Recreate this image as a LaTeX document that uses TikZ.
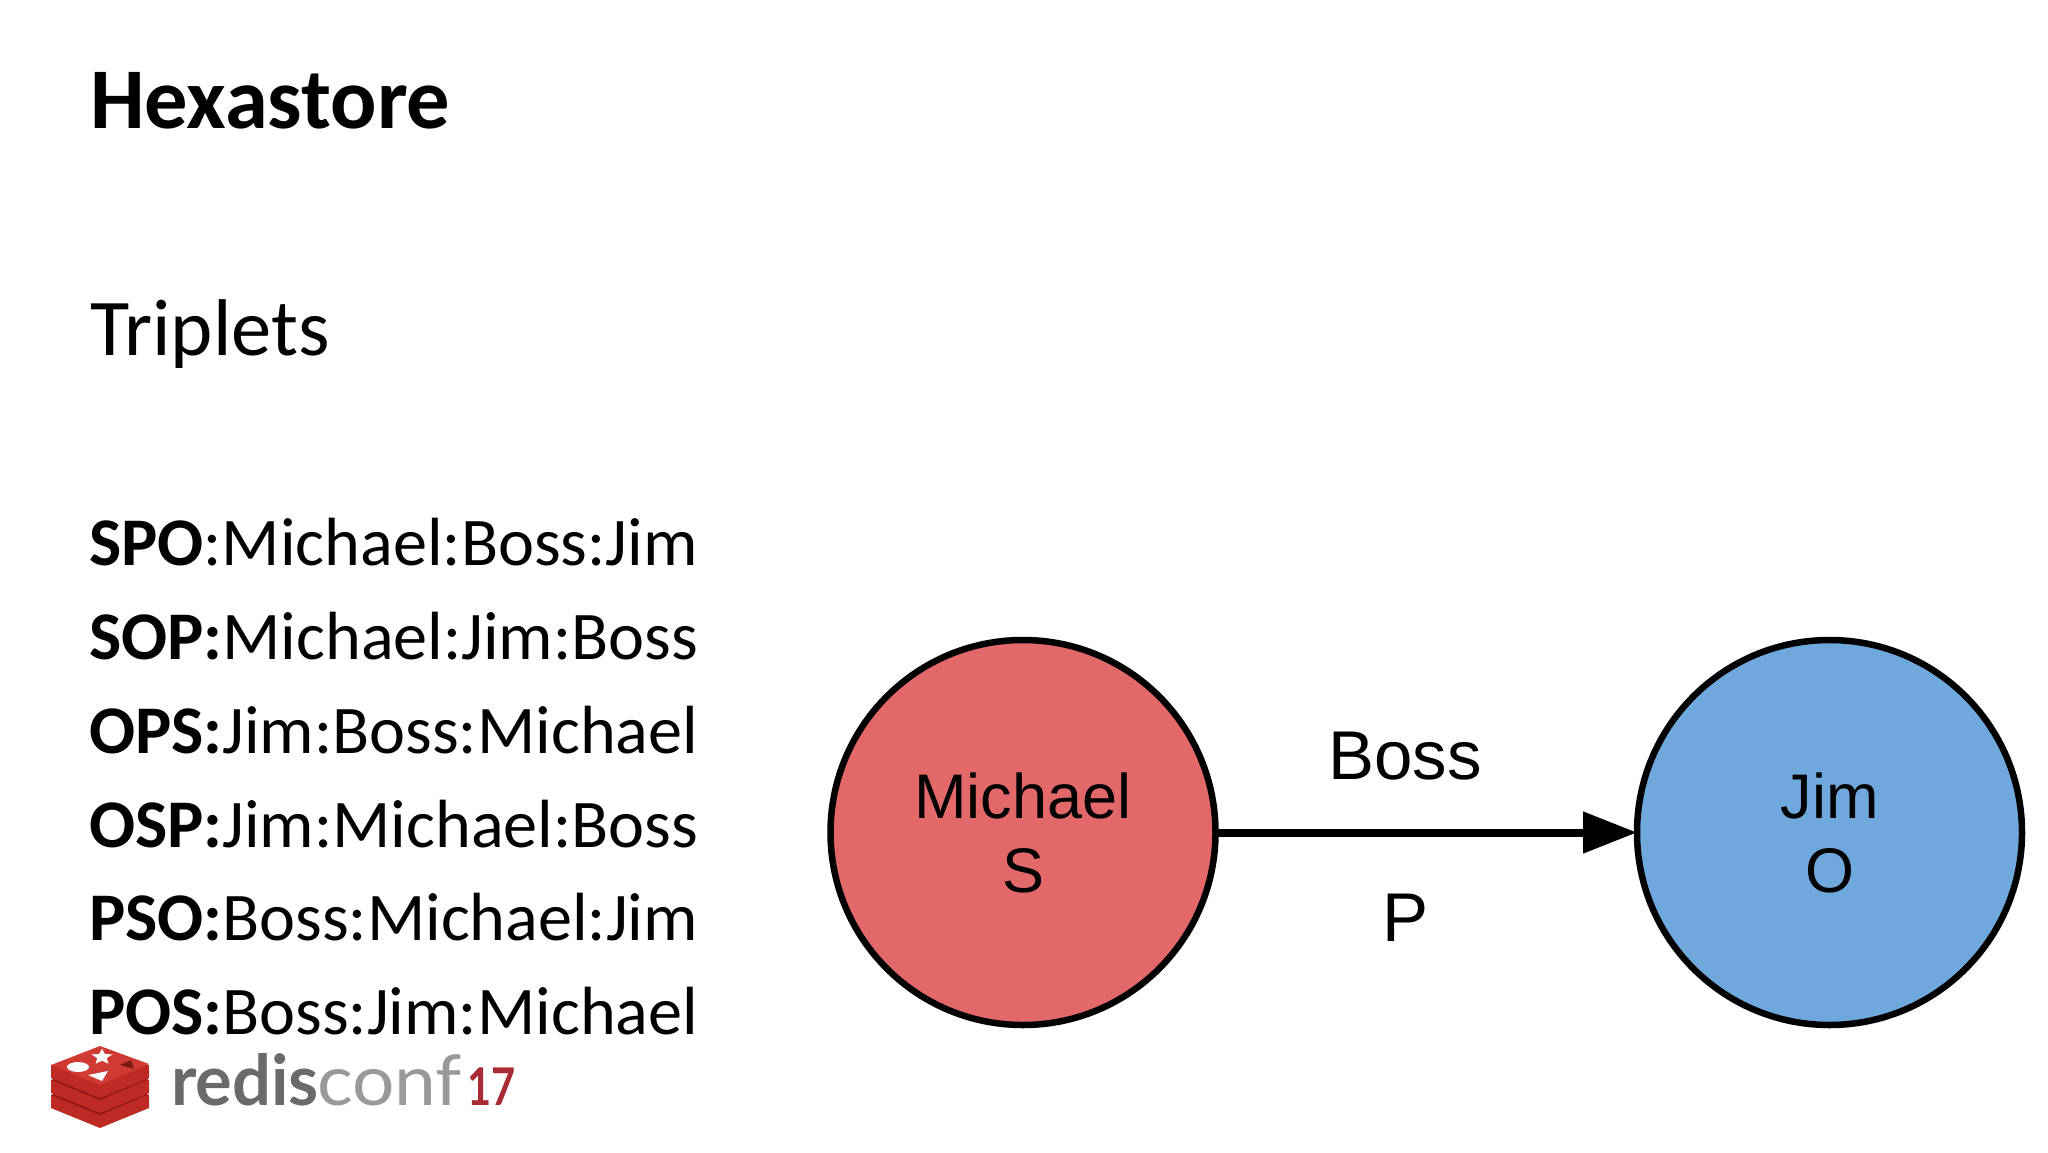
\documentclass[tikz,border=0pt]{standalone}
\usepackage{fontspec}
\setmainfont{Carlito}
\newfontfamily\arialf{Liberation Sans}
\newfontfamily\latof{Lato}
\usetikzlibrary{arrows.meta,shapes.geometric}
\definecolor{michaelred}{HTML}{E2686A}
\definecolor{jimblue}{HTML}{6FA8DC}
\definecolor{redisA}{HTML}{8F1A14}
\definecolor{redisB}{HTML}{BE2A24}
\definecolor{redisC}{HTML}{CF3A33}
\definecolor{redisD}{HTML}{7A1A14}
\definecolor{logogrey}{HTML}{6A6A6A}
\definecolor{logolight}{HTML}{999999}
\definecolor{logored}{HTML}{A82A33}
\tikzset{
  txt/.style={inner sep=0pt,outer sep=0pt,anchor=base west},
  titletxt/.style={txt,font=\fontsize{86.5}{90}\selectfont\bfseries},
  subtxt/.style={txt,font=\fontsize{80.5}{90}\selectfont},
  linetxt/.style={txt,font=\fontsize{68.2}{76}\selectfont},
  ball/.style={circle,draw=black,line width=6.5pt,minimum size=385pt,inner sep=0pt,outer sep=0pt,align=center,
     font=\arialf\fontsize{63}{74}\selectfont},
  edgetxt/.style={inner sep=0pt,outer sep=0pt,anchor=base,font=\arialf\fontsize{69}{74}\selectfont},
  arrowline/.style={line width=8pt,-{Triangle[length=54pt,width=40pt]}},
  logotxt/.style={inner sep=0pt,outer sep=0pt,anchor=base west},
}
\newcommand{\stacklayer}[2]{%
  \fill[redisB] (51,#1) -- (51,#1+13) -- (100,#1+33) -- (149,#1+13) -- (149,#1) -- cycle;
  \fill[#2] (51,#1) -- (100,#1-19) -- (149,#1-1) -- (100,#1+20) -- cycle;
}
\begin{document}
\begin{tikzpicture}[x=1pt,y=-1pt]
\useasboundingbox (0,0) rectangle (2048,1152);
\node[titletxt] (title) at (90,128) {Hexastore};
\node[subtxt] (triplets) at (90,355) {Triplets};
\node[linetxt] (l1) at (89,565) {\textbf{SPO}:Michael:Boss:Jim};
\node[linetxt] (l2) at (89,659) {\textbf{SOP:}Michael:Jim:Boss};
\node[linetxt] (l3) at (89,753) {\textbf{OPS:}Jim:Boss:Michael};
\node[linetxt] (l4) at (89,847) {\textbf{OSP:}Jim:Michael:Boss};
\node[linetxt] (l5) at (89,940) {\textbf{PSO:}Boss:Michael:Jim};
\node[linetxt] (l6) at (89,1034) {\textbf{POS:}Boss:Jim:Michael};

\node[ball,fill=michaelred] (michael) at (1023,832.5) {Michael\\S};
\node[ball,fill=jimblue] (jim) at (1829.5,832.5) {Jim\\O};
\draw[arrowline] (michael) -- (jim);
\node[edgetxt] (boss) at (1405,779) {Boss};
\node[edgetxt] (p) at (1405,941) {P};

% logo
\stacklayer{1095}{redisA}
\stacklayer{1080}{redisA}
\stacklayer{1065}{redisC}
\fill[white] (78,1067) ellipse [x radius=11, y radius=5];
\node[star,star points=5,star point ratio=2.2,fill=white,inner sep=0pt,minimum size=22pt,yscale=0.75] (logostar) at (102,1057) {};
\fill[white] (88,1075) -- (108,1071) -- (102,1081) -- cycle;
\fill[redisD] (120,1065) -- (131,1060) -- (134,1069) -- cycle;
\node[logotxt] (logoa) at (171,1105) {\scalebox{.98}[1]{\latof\bfseries\fontsize{70}{80}\selectfont\color{logogrey}redis}};
\node[logotxt] (logob) at (317,1105) {\scalebox{1.07}[1]{\latof\fontsize{70}{80}\selectfont\color{logolight}conf}};
\node[logotxt] (logoc) at (467,1105) {\scalebox{.8}[1]{\latof\bfseries\fontsize{52}{60}\selectfont\color{logored}17}};
\end{tikzpicture}
\end{document}
